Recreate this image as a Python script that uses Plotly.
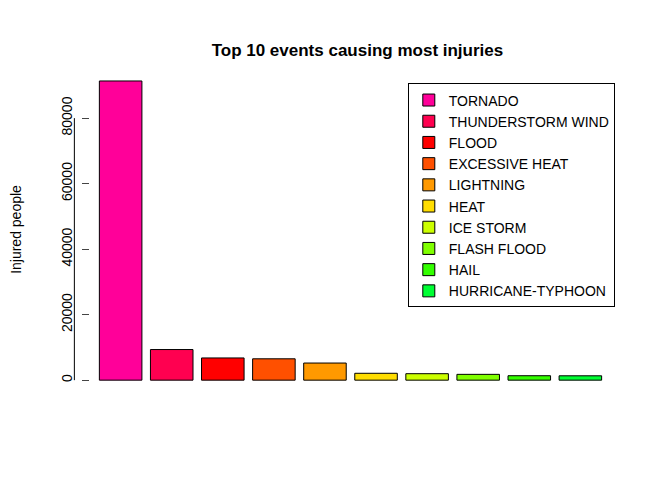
import plotly.graph_objects as go

events = ["TORNADO", "THUNDERSTORM WIND", "FLOOD", "EXCESSIVE HEAT", "LIGHTNING",
          "HEAT", "ICE STORM", "FLASH FLOOD", "HAIL", "HURRICANE-TYPHOON"]
injuries = [91346, 9353, 6789, 6525, 5230, 2100, 1975, 1777, 1361, 1333]
colors = ["#FF0099", "#FF0050", "#FF0000", "#FF5000", "#FF9900",
          "#FFDD00", "#CCFF00", "#80FF00", "#33FF00", "#00FF33"]
yticks = [0, 20000, 40000, 60000, 80000]

fig = go.Figure()
for i in range(len(events)):
    fig.add_trace(go.Bar(x=[i], y=[injuries[i]], name=events[i],
                         marker=dict(color=colors[i], line=dict(color="black", width=1)),
                         width=0.833))

fig.add_shape(type="line", xref="paper", yref="y", x0=-0.03, x1=-0.03,
              y0=0, y1=80000, line=dict(color="black", width=1))

fig.update_layout(
    width=672, height=480, plot_bgcolor="white", paper_bgcolor="white",
    margin=dict(l=82, r=69, t=61, b=98, autoexpand=False),
    font=dict(family="Liberation Sans, Arial", size=14, color="black"),
    title=dict(text="<b>Top 10 events causing most injuries</b>", x=0.52, xanchor="center",
               y=0.912, yanchor="middle", font=dict(size=17)),
    xaxis=dict(range=[-0.6, 9.6], showticklabels=False, showgrid=False, zeroline=False,
               showline=False, ticks=""),
    yaxis=dict(range=[-3000, 95000], tickvals=yticks, ticktext=[str(v) for v in yticks],
               tickangle=-90, ticks="outside", ticklen=7, ticklabelstandoff=4,
               showgrid=False, zeroline=False, showline=False, automargin=False,
               title=dict(text="Injured people", standoff=40, font=dict(size=14))),
    legend=dict(x=0.61, y=0.955, xanchor="left", yanchor="top", bordercolor="black",
                borderwidth=1, bgcolor="white", font=dict(size=14), tracegroupgap=0,
                itemwidth=30),
    showlegend=True,
)

fig.write_html("out.html")
